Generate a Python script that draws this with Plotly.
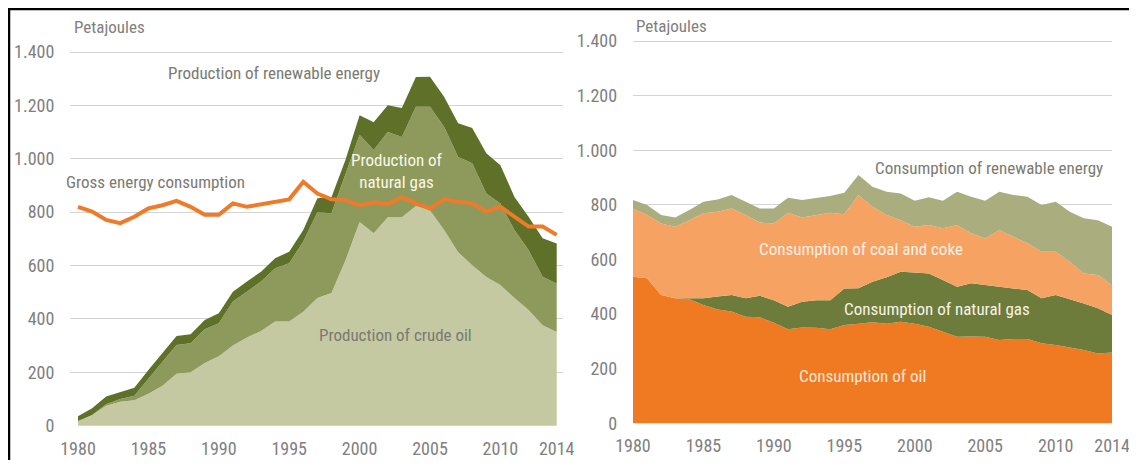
import plotly.graph_objects as go

# The page body has an 8px margin, so the figure is sized to fit the window without scrollbars
W, H = 1121, 452
OFF = 8  # page offset of the figure

years = list(range(1980, 2015))
x_tick_vals = [1980, 1985, 1990, 1995, 2000, 2005, 2010, 2014]
x_tick_text = ["1980", "1985", "1990", "1995", "2000", "2005", "2010", "2014"]
y_tick_vals = [0, 200, 400, 600, 800, 1000, 1200, 1400]
y_tick_text = ["0", "200", "400", "600", "800", "1.000", "1.200", "1.400"]

# Left panel: production (stacked) and gross consumption (line), PJ
prod_crude_oil = [18, 40, 75, 90, 95, 120, 150, 195, 200, 235, 260, 300, 330, 355, 390, 390, 427,
                  478, 497, 620, 763, 721, 781, 781, 823, 807, 733, 650, 601, 557, 527, 478, 433, 376, 351]
prod_natural_gas = [0, 0, 5, 10, 17, 58, 90, 107, 109, 126, 124, 165, 172, 185, 200, 219, 263,
                    322, 299, 320, 327, 312, 319, 301, 372, 388, 387, 357, 382, 313, 305, 255, 225, 182, 182]
prod_renewable = [17, 25, 29, 27, 30, 31, 31, 34, 34, 35, 37, 37, 38, 37, 37, 43, 43,
                  52, 60, 56, 73, 104, 101, 108, 111, 112, 112, 126, 132, 151, 144, 124, 125, 144, 150]
gross_consumption = [820, 802, 771, 759, 783, 814, 826, 842, 820, 790, 790, 833, 820, 830, 839, 848, 914,
                     870, 848, 845, 826, 837, 830, 856, 834, 814, 849, 839, 833, 802, 820, 783, 746, 746, 715]

# Right panel: consumption by fuel (stacked), PJ
cons_oil = [537, 531, 470, 458, 454, 433, 417, 409, 390, 388, 368, 344, 351, 350, 344, 360, 365,
            370, 365, 372, 365, 354, 335, 317, 318, 317, 305, 309, 309, 293, 287, 278, 268, 256, 259]
cons_natural_gas = [0, 0, 0, 0, 4, 25, 47, 61, 68, 79, 83, 83, 94, 101, 107, 134, 130,
                    148, 170, 183, 187, 195, 190, 183, 195, 189, 195, 185, 179, 165, 183, 177, 171, 165, 138]
cons_coal_coke = [250, 232, 262, 262, 286, 311, 311, 317, 305, 268, 281, 344, 309, 312, 320, 272, 341,
                  275, 228, 189, 168, 177, 189, 226, 183, 171, 208, 189, 171, 170, 158, 137, 110, 122, 109]
cons_renewable = [31, 36, 31, 34, 37, 42, 45, 49, 48, 52, 55, 55, 64, 63, 61, 78, 73,
                  73, 85, 98, 95, 102, 101, 122, 134, 138, 140, 153, 171, 171, 183, 183, 202, 201, 214]

C_CRUDE = "#c5c9a1"
C_PGAS = "#8d9a5c"
C_PREN = "#5f7128"
C_LINE = "#ee7a2a"
C_OIL = "#f07a22"
C_CGAS = "#6e7c3b"
C_COAL = "#f6a263"
C_CREN = "#aaad7e"

FONT = "Liberation Sans Narrow, Arial Narrow, Roboto Condensed, sans-serif"
GRAY = "#808080"

fig = go.Figure()

def area(y, color, axis, group, name):
    xa, ya = axis
    fig.add_trace(go.Scatter(x=years, y=y, mode="lines", stackgroup=group, name=name,
                             line=dict(width=0, color=color), fillcolor=color,
                             xaxis=xa, yaxis=ya, hoverinfo="x+y+name"))

area(prod_crude_oil, C_CRUDE, ("x", "y"), "prod", "Production of crude oil")
area(prod_natural_gas, C_PGAS, ("x", "y"), "prod", "Production of natural gas")
area(prod_renewable, C_PREN, ("x", "y"), "prod", "Production of renewable energy")
fig.add_trace(go.Scatter(x=years, y=gross_consumption, mode="lines", name="Gross energy consumption",
                         line=dict(color=C_LINE, width=4), xaxis="x", yaxis="y"))

area(cons_oil, C_OIL, ("x2", "y2"), "cons", "Consumption of oil")
area(cons_natural_gas, C_CGAS, ("x2", "y2"), "cons", "Consumption of natural gas")
area(cons_coal_coke, C_COAL, ("x2", "y2"), "cons", "Consumption of coal and coke")
area(cons_renewable, C_CREN, ("x2", "y2"), "cons", "Consumption of renewable energy")

def px_x(p):
    """page pixel x -> paper fraction"""
    return (p - OFF) / W

def px_y(p):
    """page pixel y -> paper fraction"""
    return 1 - (p - OFF) / H

tickfont = dict(family=FONT, size=18, color=GRAY)
xcommon = dict(tickmode="array", tickvals=x_tick_vals, ticktext=x_tick_text, showgrid=False,
               zeroline=False, showline=False, ticks="outside", ticklen=6, automargin=False,
               tickcolor="rgba(0,0,0,0)", tickfont=tickfont, ticklabeloverflow="allow")
ycommon = dict(tickmode="array", tickvals=y_tick_vals, ticktext=y_tick_text, showgrid=True,
               gridcolor="#d4d4d4", gridwidth=1.3, zeroline=False, showline=False, automargin=False,
               ticks="outside", ticklen=11, tickcolor="rgba(0,0,0,0)", tickfont=tickfont,
               range=[-2, 1410])

fig.update_layout(
    width=W, height=H,
    margin=dict(l=0, r=0, t=0, b=0, autoexpand=False),
    paper_bgcolor="white", plot_bgcolor="rgba(0,0,0,0)",
    showlegend=False,
    xaxis=dict(domain=[px_x(70), px_x(563)], range=[1979.432, 2014.447], anchor="y", **xcommon),
    yaxis=dict(domain=[px_y(426.23), px_y(49.34)], anchor="x", **ycommon),
    xaxis2=dict(domain=[px_x(632.7), px_x(1112.3)], range=[1979.98, 2014.02], anchor="y2", **xcommon),
    yaxis2=dict(domain=[px_y(423.85), px_y(38.27)], anchor="x2", **ycommon),
)

def label(text, xp, yp, color, size=17):
    fig.add_annotation(text=text, x=px_x(xp), y=px_y(yp), xref="paper", yref="paper",
                       showarrow=False, xanchor="center", yanchor="middle",
                       font=dict(family=FONT, size=size, color=color))

label("Petajoules", 109, 27, GRAY)
label("Petajoules", 671, 26, GRAY)
label("Production of renewable energy", 274, 73, "#7a7a72")
label("Gross energy consumption", 155, 182, "#7a7a72")
label("Production of<br>natural gas", 397, 171, "#fbf6e8")
label("Production of crude oil", 395, 335, "#7a7a72")
label("Consumption of renewable energy", 989, 168, "#7a7a72")
label("Consumption of coal and coke", 861, 249, "#fdf0e4")
label("Consumption of natural gas", 937, 309, "#f6f3e8")
label("Consumption of oil", 862, 376, "#fde9d9")

# Frame around both panels (open at right and bottom, as in the cropped original)
fig.add_shape(type="rect", xref="paper", yref="paper",
              x0=px_x(9), x1=1.05, y0=-0.05, y1=px_y(9),
              line=dict(color="black", width=2.5), fillcolor="rgba(0,0,0,0)")

fig.write_html("out.html")
